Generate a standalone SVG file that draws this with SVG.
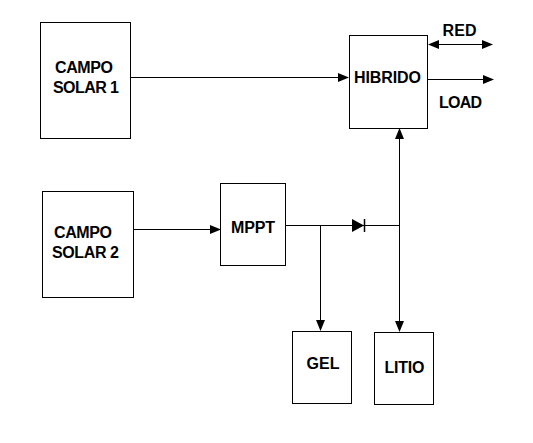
<svg xmlns="http://www.w3.org/2000/svg" width="533" height="443" viewBox="0 0 533 443">
<style>
.b{fill:#fff;stroke:#000;stroke-width:1}
.t{font-family:"Liberation Sans",Arial,sans-serif;font-size:16px;font-weight:bold;fill:#000}
.c{fill:none;stroke:#000;stroke-width:1}
.k{fill:#000;stroke:none}
</style>
<rect width="533" height="443" fill="#fff"/>
<g id="connectors">
<path class="c" d="M131 77.500H340"/>
<path class="k" d="M349 77.500L338 73V82Z"/>
<path class="c" d="M134 229.500H212"/>
<path class="k" d="M221 229.500L210 225V234Z"/>
<path class="c" d="M286 225.500H399.500"/>
<path class="c" d="M320.500 225.500V324"/>
<path class="k" d="M320.500 331L316 320H325Z"/>
<path class="c" d="M399.500 136V325"/>
<path class="k" d="M399.500 128L395 139H404Z"/>
<path class="k" d="M399.500 332L395 321H404Z"/>
<path class="k" d="M352 219V232L364 225.500Z"/>
<path class="c" d="M364.500 219V232" style="stroke-width:1.500"/>
<path class="c" d="M436 44.500H486"/>
<path class="k" d="M428 44.500L439 40V49Z"/>
<path class="k" d="M493 44.500L482 40V49Z"/>
<path class="c" d="M428 79.500H486"/>
<path class="k" d="M494 79.500L483 75V84Z"/>
</g>
<g id="campo1"><rect class="b" x="40.500" y="22.500" width="90" height="116"/>
<text class="t" x="55" y="73" textLength="58">CAMPO</text><text class="t" x="53" y="93" textLength="66">SOLAR 1</text></g>
<g id="campo2"><rect class="b" x="42.500" y="191.500" width="91" height="106"/>
<text class="t" x="54" y="238" textLength="58">CAMPO</text><text class="t" x="52" y="258" textLength="67">SOLAR 2</text></g>
<g id="hibrido"><rect class="b" x="349.500" y="35.500" width="78" height="93"/>
<text class="t" x="354" y="83" textLength="67">HIBRIDO</text></g>
<g id="mppt"><rect class="b" x="220.500" y="183.500" width="65" height="82"/>
<text class="t" x="231" y="233" textLength="44">MPPT</text></g>
<g id="gel"><rect class="b" x="292.500" y="331.500" width="59" height="72"/>
<text class="t" x="306.500" y="369" textLength="33">GEL</text></g>
<g id="litio"><rect class="b" x="374.500" y="332.500" width="59" height="72"/>
<text class="t" x="384.500" y="373" textLength="40">LITIO</text></g>
<g id="labels"><text class="t" x="442.500" y="36" textLength="34">RED</text><text class="t" x="439" y="108" textLength="43">LOAD</text></g>
</svg>
